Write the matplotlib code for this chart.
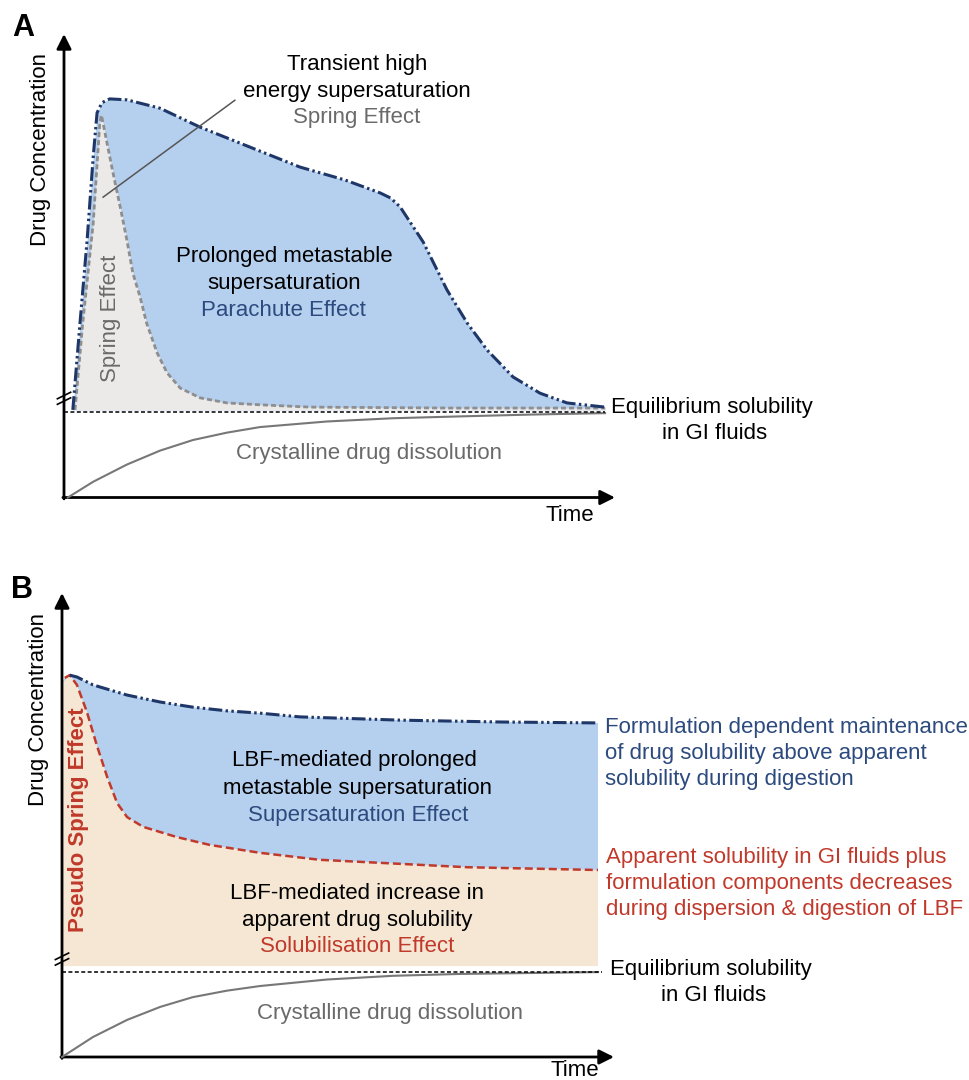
"""Spring/parachute supersaturation schematic (panels A and B)."""

import matplotlib
matplotlib.use('Agg')
import matplotlib.pyplot as plt
import numpy as np

plt.rcParams['font.family'] = ['Liberation Sans', 'DejaVu Sans']

# ---- panel A (arbitrary units, time 0-100, concentration 0-100) ----
a_parachute_t = [1.6, 2.9, 4.2, 5.3, 6.0, 6.9, 8.3, 11.4, 17.4, 24.7, 35.0, 42.8, 51.0, 57.4,
                 59.3, 61.0, 65.2, 69.5, 73.2, 76.8, 81.5, 86.4, 91.3, 98.2]
a_parachute_c = [18.9, 37.6, 55.6, 73.5, 83.0, 85.2, 86.0, 85.8, 84.0, 79.9, 75.0, 71.3, 68.5,
                 65.7, 64.6, 62.7, 55.1, 44.8, 37.6, 31.8, 26.0, 22.5, 20.4, 19.5]
a_spring_t = [2.0, 3.4, 5.3, 6.5, 6.8, 7.7, 8.9, 10.2, 11.4, 12.5, 13.8, 15.0, 16.9, 18.7,
              21.1, 24.7, 29.6, 35.6, 44.6, 70.1, 98.2]
a_spring_c = [18.9, 37.6, 59.2, 80.8, 82.5, 77.1, 70.0, 62.7, 55.6, 48.4, 43.3, 37.6, 31.2, 26.9,
              23.6, 21.5, 20.4, 20.0, 19.5, 19.3, 19.3]
a_crystal_t = [0.7, 5.3, 11.4, 17.4, 23.4, 29.6, 35.6, 47.7, 59.7, 71.9, 85.0, 98.2]
a_crystal_c = [0.0, 3.4, 7.1, 10.1, 12.4, 14.0, 15.2, 16.4, 17.1, 17.5, 17.9, 18.2]
a_equilibrium = 18.4
a_fill_base = 18.9
a_end_t = 98.2

# ---- panel B ----
b_supersat_t = [1.4, 2.7, 5.6, 11.8, 17.8, 23.7, 29.9, 35.9, 43.1, 61.2, 79.3, 97.1]
b_supersat_c = [82.3, 81.9, 80.2, 78.0, 76.5, 75.4, 74.6, 74.1, 73.3, 72.6, 72.2, 72.0]
b_apparent_t = [0.0, 0.5, 1.4, 2.7, 4.5, 6.3, 8.2, 10.0, 11.8, 14.7, 20.8, 26.8, 35.9, 46.7,
                73.4, 97.1]
b_apparent_c = [80.6, 81.7, 82.3, 80.2, 74.4, 67.2, 60.3, 54.7, 51.7, 49.6, 47.4, 45.7, 44.0,
                42.5, 40.9, 40.3]
b_crystal_t = [0.0, 5.6, 11.8, 17.8, 23.7, 29.9, 35.9, 48.0, 60.0, 72.1, 85.0, 97.1]
b_crystal_c = [0.0, 4.3, 8.0, 10.8, 12.9, 14.3, 15.3, 16.7, 17.5, 17.9, 18.1, 18.3]
b_equilibrium = 18.3
b_fill_base = 19.6
b_end_t = 97.8

NAVY = '#1f3768'
BLUE_FILL = '#b5cfee'
BLUE_TEXT = '#2c4a7e'
GREY_FILL = '#ebeae9'
GREY_LINE = '#8e8e8e'
GREY_TEXT = '#6a6a6a'
BEIGE = '#f5e7d3'
RED = '#c0392b'
FS = 16

DASH_DOT_DOT = (0, (4.5, 1.1, 0.8, 1.1, 0.8, 1.1))


def draw_frame(ax, break_c):
    ax.set_xlim(0, 100)
    ax.set_ylim(0, 100)
    ax.axis('off')
    arrow = dict(arrowstyle='-|>', lw=2, color='black', mutation_scale=22, shrinkA=0, shrinkB=0)
    ax.annotate('', xy=(0, 100), xytext=(0, -0.3), arrowprops=arrow, annotation_clip=False)
    ax.annotate('', xy=(100, 0), xytext=(-0.2, 0), arrowprops=arrow, annotation_clip=False)
    for dc in (0.0, 1.2):
        ax.plot([-1.2, 1.2], [break_c - 0.7 + dc, break_c + 0.7 + dc], color='black', lw=1.2,
                clip_on=False, zorder=6)
    ax.text(-4.2, 75, 'Drug Concentration', rotation=90, ha='center', va='center', fontsize=FS)


def draw_baseline(ax, crystal_t, crystal_c, eq, end_t, label_c, label_dx):
    ax.plot([0, end_t], [eq, eq], color='black', lw=1.1, linestyle=(0, (2.6, 1.6)), zorder=4,
            clip_on=False)
    ax.plot(crystal_t, crystal_c, color='#777777', lw=1.5, zorder=3, clip_on=False)
    ax.text(99.3, label_c, 'Equilibrium solubility', ha='left', va='center', fontsize=FS)
    ax.text(118, label_c - 5.6, 'in GI fluids', ha='center', va='center', fontsize=FS)
    ax.text(55.4 + label_dx, 9.4, 'Crystalline drug dissolution', ha='center', va='center',
            fontsize=FS, color=GREY_TEXT)


fig = plt.figure(figsize=(9.69, 10.8), dpi=100)
W, H = 969, 1080

# ---------------- panel A ----------------
ax_a = fig.add_axes([64 / W, 1 - 497.5 / H, 551 / W, 463.5 / H])
draw_frame(ax_a, 20.8)
ax_a.fill_between(a_parachute_t, a_parachute_c, a_fill_base, color=BLUE_FILL, lw=0, zorder=1)
ax_a.fill_between(a_spring_t, a_spring_c, a_fill_base, color=GREY_FILL, lw=0, zorder=2)
ax_a.plot(a_spring_t, a_spring_c, color=GREY_LINE, lw=2.0, linestyle=(0, (1.8, 1.1)), zorder=3)
ax_a.plot(a_parachute_t, a_parachute_c, color=NAVY, lw=2.2, linestyle=DASH_DOT_DOT, zorder=5)
draw_baseline(ax_a, a_crystal_t, a_crystal_c, a_equilibrium, a_end_t, 19.4, 0)

ax_a.plot([7.1, 31.0], [64.8, 85.7], color='#555555', lw=1.1, zorder=6)
ax_a.text(53.2, 93.5, 'Transient high', ha='center', va='center', fontsize=FS)
ax_a.text(53.2, 87.6, 'energy supersaturation', ha='center', va='center', fontsize=FS)
ax_a.text(53.2, 81.9, 'Spring Effect', ha='center', va='center', fontsize=FS, color=GREY_TEXT)
ax_a.text(39.9, 51.9, 'Prolonged metastable', ha='center', va='center', fontsize=FS)
ax_a.text(39.9, 46.1, 'supersaturation', ha='center', va='center', fontsize=FS)
ax_a.text(39.9, 40.4, 'Parachute Effect', ha='center', va='center', fontsize=FS, color=BLUE_TEXT)
ax_a.text(8.4, 38.7, 'Spring Effect', rotation=90, ha='center', va='center', fontsize=FS,
          color=GREY_TEXT)
ax_a.text(91.8, -3.8, 'Time', ha='center', va='center', fontsize=FS)
ax_a.text(-7.4, 101.3, 'A', ha='center', va='center', fontsize=22, fontweight='bold')

# ---------------- panel B ----------------
ax_b = fig.add_axes([62 / W, 1 - 1057 / H, 552 / W, 464 / H])
draw_frame(ax_b, 20.5)
ax_b.fill(np.concatenate([b_apparent_t, [b_apparent_t[-1], 0.0]]),
          np.concatenate([b_apparent_c, [b_fill_base, b_fill_base]]),
          color=BEIGE, lw=0, zorder=1)
ax_b.fill(np.concatenate([b_supersat_t, b_apparent_t[::-1]]),
          np.concatenate([b_supersat_c, b_apparent_c[::-1]]),
          color=BLUE_FILL, lw=0, zorder=1)
ax_b.plot(b_apparent_t[1:], b_apparent_c[1:], color=RED, lw=1.8, linestyle=(0, (3.2, 1.6)),
          zorder=4)
ax_b.plot(b_supersat_t, b_supersat_c, color=NAVY, lw=2.2, linestyle=DASH_DOT_DOT, zorder=5)
draw_baseline(ax_b, b_crystal_t, b_crystal_c, b_equilibrium, b_end_t, 18.8, 4.0)

ax_b.text(53.0, 63.8, 'LBF-mediated prolonged', ha='center', va='center', fontsize=FS)
ax_b.text(53.6, 57.9, 'metastable supersaturation', ha='center', va='center', fontsize=FS)
ax_b.text(53.6, 52.0, 'Supersaturation Effect', ha='center', va='center', fontsize=FS,
          color=BLUE_TEXT)
ax_b.text(53.4, 35.3, 'LBF-mediated increase in', ha='center', va='center', fontsize=FS)
ax_b.text(53.4, 29.5, 'apparent drug solubility', ha='center', va='center', fontsize=FS)
ax_b.text(53.4, 23.8, 'Solubilisation Effect', ha='center', va='center', fontsize=FS, color=RED)
ax_b.text(2.9, 51.1, 'Pseudo Spring Effect', rotation=90, ha='center', va='center', fontsize=FS,
          fontweight='bold', color=RED)

blue_note = ['Formulation dependent maintenance', 'of drug solubility above apparent',
             'solubility during digestion']
red_note = ['Apparent solubility in GI fluids plus', 'formulation components decreases',
            'during dispersion & digestion of LBF']
for i, line in enumerate(blue_note):
    ax_b.text(98.4, 71.1 - 5.7 * i, line, ha='left', va='center', fontsize=FS, color=BLUE_TEXT)
for i, line in enumerate(red_note):
    ax_b.text(98.6, 43.1 - 5.7 * i, line, ha='left', va='center', fontsize=FS, color=RED)

ax_b.text(92.9, -3.0, 'Time', ha='center', va='center', fontsize=FS)
ax_b.text(-7.2, 100.6, 'B', ha='center', va='center', fontsize=22, fontweight='bold')

fig.savefig('out.png', dpi=100)
plt.close(fig)
